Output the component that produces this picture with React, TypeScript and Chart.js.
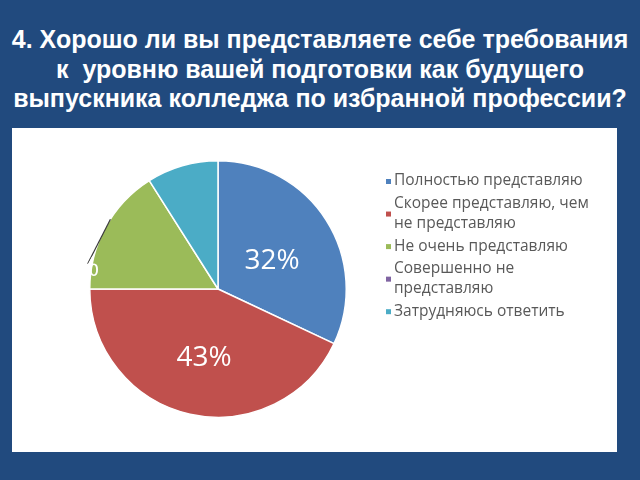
import React, { useEffect, useRef } from "react";
import { Chart, registerables } from "chart.js";

Chart.register(...registerables);

const titleLines = [
  "4. Хорошо ли вы представляете себе требования",
  "к  уровню вашей подготовки как будущего",
  "выпускника колледжа по избранной профессии?",
];

const categories: string[][] = [
  ["Полностью представляю"],
  ["Скорее представляю, чем", "не представляю"],
  ["Не очень представляю"],
  ["Совершенно не", "представляю"],
  ["Затрудняюсь ответить"],
];

const values = [32, 43, 16, 0, 9];

const colors = ["#4f81bd", "#c0504d", "#9bbb59", "#8064a2", "#4bacc6"];

const labelFont = '28px "Open Sans", sans-serif';
const legendFont = '15.5px "Open Sans", sans-serif';

const pieLabels = {
  id: "pieLabels",
  afterDatasetsDraw(chart: any) {
    const ctx = chart.ctx;
    const meta = chart.getDatasetMeta(0);
    const data = chart.data.datasets[0].data as number[];
    ctx.save();
    ctx.font = labelFont;
    ctx.fillStyle = "#ffffff";
    ctx.textBaseline = "middle";
    meta.data.forEach((arc: any, i: number) => {
      const v = data[i];
      if (i === 0 || i === 1) {
        const p = arc.tooltipPosition();
        ctx.textAlign = "center";
        ctx.fillText(v + "%", p.x, p.y + 6);
      } else if (i === 2) {
        // outside label with leader line (white text on white panel)
        const { x, y, outerRadius } = arc.getProps(["x", "y", "outerRadius"], true);
        const toXY = (degFromTop: number, r: number) => {
          const t = ((degFromTop - 90) * Math.PI) / 180;
          return [x + Math.cos(t) * r, y + Math.sin(t) * r];
        };
        const [sx, sy] = toXY(303, outerRadius);
        const [ex, ey] = toXY(281, outerRadius + 4.5);
        ctx.strokeStyle = "#3a3a3a";
        ctx.lineWidth = 1.2;
        ctx.beginPath();
        ctx.moveTo(sx, sy);
        ctx.lineTo(ex, ey);
        ctx.stroke();
        ctx.textAlign = "right";
        ctx.fillText(v + "%", x - outerRadius * 0.925, y - outerRadius * 0.165);
      }
    });
    ctx.restore();
  },
};

const sideLegend = {
  id: "sideLegend",
  afterDraw(chart: any) {
    const ctx = chart.ctx;
    const labels = chart.data.labels as string[][];
    const bg = chart.data.datasets[0].backgroundColor as string[];
    const x0 = 374;
    const lineH = 20.5;
    const gap = 22.3;
    let y = 53;
    ctx.save();
    ctx.font = legendFont;
    ctx.textBaseline = "middle";
    ctx.textAlign = "left";
    labels.forEach((lines, i) => {
      const first = y;
      lines.forEach((ln, j) => {
        ctx.fillStyle = "#595959";
        ctx.fillText(ln, x0 + 8, y);
        if (j < lines.length - 1) y += lineH;
      });
      const mid = (first + y) / 2;
      ctx.fillStyle = bg[i];
      ctx.fillRect(x0, mid - 2, 5, 5);
      y += gap;
    });
    ctx.restore();
  },
};

export default function App() {
  const ref = useRef<HTMLCanvasElement>(null);
  useEffect(() => {
    if (!ref.current) return;
    const chart = new Chart(ref.current, {
      type: "pie",
      data: {
        labels: categories as any,
        datasets: [
          {
            data: values,
            backgroundColor: colors,
            borderColor: "#ffffff",
            borderWidth: 1.5,
          },
        ],
      },
      options: {
        responsive: false,
        animation: false,
        layout: { padding: { left: 77, right: 270, top: 32, bottom: 34 } },
        plugins: {
          legend: { display: false },
          tooltip: { enabled: false },
          title: { display: false },
        },
      },
      plugins: [pieLabels, sideLegend],
    });
    return () => chart.destroy();
  }, []);

  return (
    <div
      style={{
        position: "fixed",
        left: 0,
        top: 0,
        width: 640,
        height: 480,
        background: "#214a7e",
        overflow: "hidden",
      }}
    >
      <div
        style={{
          position: "absolute",
          left: 0,
          top: 25,
          width: 640,
          textAlign: "center",
          color: "#ffffff",
          font: 'bold 25px "Liberation Sans", Arial, sans-serif',
          lineHeight: "29.5px",
          whiteSpace: "pre",
        }}
      >
        {titleLines.map((t, i) => (
          <div key={i}>{t}</div>
        ))}
      </div>
      <div
        style={{
          position: "absolute",
          left: 12,
          top: 128,
          width: 605,
          height: 324,
          background: "#ffffff",
        }}
      >
        <canvas ref={ref} width={605} height={324} style={{ display: "block" }} />
      </div>
    </div>
  );
}
